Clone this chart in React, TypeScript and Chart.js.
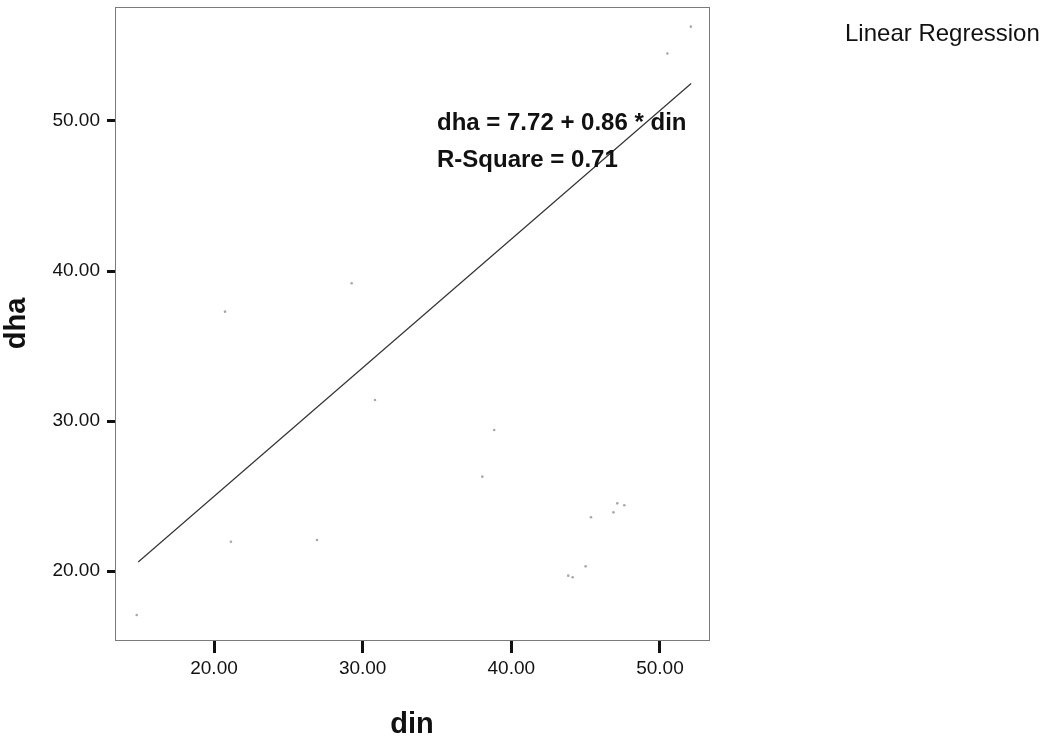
import React, { useEffect, useRef } from "react";
import { Chart, registerables } from "chart.js";

Chart.register(...registerables);

// Observed points (din, dha)
const dinValues = [14.8, 20.74, 21.14, 26.93, 29.26, 30.83, 38.05, 38.85, 43.83, 44.13, 45.0, 45.36, 46.87, 47.13, 47.6, 50.5, 52.08];
const dhaValues = [17.07, 37.29, 21.95, 22.07, 39.18, 31.4, 26.29, 29.4, 19.69, 19.58, 20.31, 23.58, 23.91, 24.51, 24.38, 54.5, 56.29];

// Fit line end points (din, dha)
const fitDin = [14.9, 52.1];
const fitDha = [20.6, 52.5];

const xTickValues = [20, 30, 40, 50];
const yTickValues = [20, 30, 40, 50];

const xTitle = "din";
const yTitle = "dha";
const equationLines = ["dha = 7.72 + 0.86 * din", "R-Square = 0.71"];
const legendLabel = "Linear Regression";

const FONT = "'Liberation Sans', Arial, sans-serif";

const framePlugin = {
  id: "framePlugin",
  beforeDatasetsDraw(chart: any) {
    const { ctx, chartArea } = chart;
    ctx.save();
    ctx.strokeStyle = "#7a7a7a";
    ctx.lineWidth = 1;
    ctx.strokeRect(
      Math.round(chartArea.left) + 0.5,
      Math.round(chartArea.top) + 0.5,
      Math.round(chartArea.right - chartArea.left),
      Math.round(chartArea.bottom - chartArea.top)
    );
    ctx.restore();
  },
  afterDraw(chart: any) {
    const { ctx, chartArea } = chart;
    ctx.save();
    ctx.fillStyle = "#111";
    ctx.font = `bold 24px ${FONT}`;
    ctx.textAlign = "left";
    ctx.textBaseline = "alphabetic";
    const ex = chartArea.left + 322;
    ctx.fillText(equationLines[0], ex, chartArea.top + 123);
    ctx.fillText(equationLines[1], ex, chartArea.top + 160);
    ctx.font = `24px ${FONT}`;
    ctx.textBaseline = "middle";
    ctx.fillText(legendLabel, 845, 34);
    ctx.restore();
  },
};

export default function App() {
  const canvasRef = useRef<HTMLCanvasElement | null>(null);

  useEffect(() => {
    document.body.style.margin = "0";
    const canvas = canvasRef.current;
    if (!canvas) return;
    const points = dinValues.map((x, i) => ({ x, y: dhaValues[i] }));
    const fit = fitDin.map((x, i) => ({ x, y: fitDha[i] }));
    const chart = new Chart(canvas, {
      type: "scatter",
      data: {
        datasets: [
          {
            label: "Observed",
            data: points,
            pointRadius: 1.3,
            pointBackgroundColor: "#a8a8a8",
            pointBorderWidth: 0,
          },
          {
            label: legendLabel,
            data: fit,
            showLine: true,
            borderColor: "#333",
            borderWidth: 1.2,
            pointRadius: 0,
          } as any,
        ],
      },
      options: {
        animation: false,
        responsive: true,
        maintainAspectRatio: false,
        layout: { padding: { left: 0, top: 7, right: 344, bottom: 0 } },
        plugins: {
          legend: { display: false },
          tooltip: { enabled: false },
        },
        scales: {
          x: {
            type: "linear",
            min: 13.34,
            max: 53.3,
            afterBuildTicks: (scale: any) => {
              scale.ticks = xTickValues.map((v) => ({ value: v }));
            },
            afterFit: (scale: any) => {
              scale.height = 101;
              scale.paddingLeft = 0;
              scale.paddingRight = 0;
            },
            grid: {
              display: true,
              drawOnChartArea: false,
              drawTicks: true,
              tickLength: 13,
              tickWidth: 3,
              tickColor: "#111",
            },
            border: { display: false },
            ticks: {
              padding: 4,
              color: "#111",
              font: { family: FONT, size: 19 },
              callback: (v: any) => Number(v).toFixed(2),
            },
            title: {
              display: true,
              text: xTitle,
              color: "#111",
              font: { family: FONT, size: 29, weight: "bold", lineHeight: 1 },
              padding: { top: 0, bottom: 2 },
            },
          },
          y: {
            type: "linear",
            min: 15.4,
            max: 57.6,
            afterBuildTicks: (scale: any) => {
              scale.ticks = yTickValues.map((v) => ({ value: v }));
            },
            afterFit: (scale: any) => {
              scale.width = 115;
              scale.paddingTop = 0;
              scale.paddingBottom = 0;
            },
            grid: {
              display: true,
              drawOnChartArea: false,
              drawTicks: true,
              tickLength: 8,
              tickWidth: 3,
              tickColor: "#111",
            },
            border: { display: false },
            ticks: {
              padding: 7,
              color: "#111",
              font: { family: FONT, size: 19 },
              callback: (v: any) => Number(v).toFixed(2),
            },
            title: {
              display: true,
              text: yTitle,
              color: "#111",
              font: { family: FONT, size: 29, weight: "bold", lineHeight: 1 },
              padding: { top: 2, bottom: 0 },
            },
          },
        },
      },
      plugins: [framePlugin],
    });
    return () => chart.destroy();
  }, []);

  return (
    <div style={{ width: 1053, height: 741, position: "relative", background: "#fff" }}>
      <canvas ref={canvasRef} />
    </div>
  );
}
